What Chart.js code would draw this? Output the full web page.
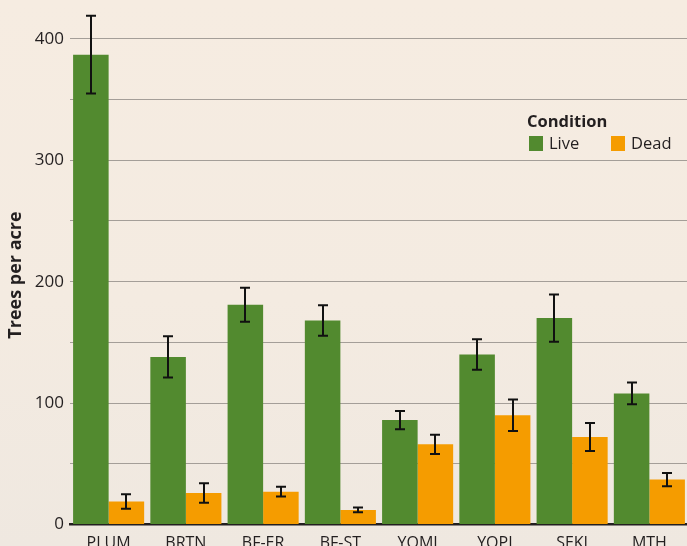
<!DOCTYPE html>
<html>
<head>
<meta charset="utf-8">
<script src="https://cdn.jsdelivr.net/npm/chart.js@4"></script>
<style>
html, body { margin: 0; padding: 0; overflow: hidden; }
body { background: linear-gradient(to bottom, #f6ece1 0px, #f4ebe1 300px, #efe8e0 546px); height: 546px; }
#wrap { position: relative; width: 688px; height: 560px; }
</style>
</head>
<body>
<div id="wrap"><canvas id="myChart" width="688" height="560"></canvas></div>
<script>
// site categories and tree counts (trees per acre)
const sites = ['PLUM', 'BRTN', 'BF-ER', 'BF-ST', 'YOMI', 'YOPI', 'SEKI', 'MTH'];
const liveTrees = [387, 138, 181, 168, 86, 140, 170, 108];
const liveErr = [32, 17, 14, 12.5, 7.5, 12.5, 19.5, 9];
const deadTrees = [19, 26, 27, 12, 66, 90, 72, 37];
const deadErr = [6, 8, 4, 2, 8, 13, 11.5, 5.5];
const yTickLabels = [0, 100, 200, 300, 400];
const legendTitle = 'Condition';
const yTitle = 'Trees per acre';

const GREEN = '#528a2f';
const ORANGE = '#f59c00';
const INK = '#231f20';
const FONT = '"Open Sans", "Noto Sans", sans-serif';

//Draws the +/- error whiskers on top of every bar
const errorBars = {
    id: 'errorBars',
    afterDatasetsDraw(chart) {
        const ctx = chart.ctx;
        const yScale = chart.scales.y;
        ctx.save();
        ctx.strokeStyle = '#111';
        ctx.lineWidth = 2;
        chart.data.datasets.forEach((ds, i) => {
            const meta = chart.getDatasetMeta(i);
            meta.data.forEach((bar, j) => {
                const hi = yScale.getPixelForValue(ds.data[j] + ds.errors[j]);
                const lo = yScale.getPixelForValue(ds.data[j] - ds.errors[j]);
                const x = Math.round(bar.x);
                ctx.beginPath();
                ctx.moveTo(x, hi); ctx.lineTo(x, lo);
                ctx.moveTo(x - 5, hi); ctx.lineTo(x + 5, hi);
                ctx.moveTo(x - 5, lo); ctx.lineTo(x + 5, lo);
                ctx.stroke();
            });
        });
        ctx.restore();
    }
};

//Legend box inside the plot, upper right, plus the y title (sits a bit below centre)
const conditionLegend = {
    id: 'conditionLegend',
    afterDraw(chart) {
        const ctx = chart.ctx;
        ctx.save();
        ctx.fillStyle = INK;
        ctx.textBaseline = 'alphabetic';
        ctx.font = 'bold 16.5px ' + FONT;
        ctx.fillText(legendTitle, 527, 127);
        const xs = [529, 611];
        chart.data.datasets.forEach((ds, i) => {
            ctx.fillStyle = ds.backgroundColor;
            ctx.fillRect(xs[i], 136, 14, 15);
            ctx.fillStyle = INK;
            ctx.font = '16.5px ' + FONT;
            ctx.fillText(ds.label, xs[i] + 20, 149);
        });
        // y axis title
        ctx.translate(16, 275);
        ctx.rotate(-Math.PI / 2);
        ctx.textAlign = 'center';
        ctx.textBaseline = 'middle';
        ctx.font = 'bold 18px ' + FONT;
        ctx.fillText(yTitle, 0, 0);
        ctx.restore();
    }
};

const ctx = document.getElementById('myChart');
const myChart = new Chart(ctx, {
    type: 'bar',
    data: {
        labels: sites,
        datasets: [
            { label: 'Live', data: liveTrees, errors: liveErr, backgroundColor: GREEN },
            { label: 'Dead', data: deadTrees, errors: deadErr, backgroundColor: ORANGE }
        ]
    },
    options: {
        responsive: false,
        animation: false,
        events: [],
        layout: { padding: 0 },
        categoryPercentage: 0.92,
        barPercentage: 1.0,
        plugins: {
            legend: { display: false },
            tooltip: { enabled: false }
        },
        scales: {
            x: {
                z: 1,
                grid: { display: false, drawTicks: false },
                border: { display: true, color: INK, width: 2.5 },
                ticks: { color: INK, font: { family: FONT, size: 16 }, padding: 9, maxRotation: 0 },
                afterFit(scale) {
                    scale.height = 35.5;
                    scale.paddingLeft = 0;
                    scale.paddingRight = 0;
                }
            },
            y: {
                min: 0,
                max: 432,
                grid: { color: '#a49e98', lineWidth: 1, drawTicks: false },
                border: { display: false },
                ticks: {
                    stepSize: 50,
                    padding: 6,
                    color: INK,
                    font: { family: FONT, size: 17 },
                    callback: (v) => yTickLabels.includes(v) ? String(v) : ''
                },
                afterBuildTicks(scale) {
                    scale.ticks = scale.ticks.filter(t => t.value % 50 === 0);
                },
                afterFit(scale) {
                    scale.width = 70;
                    scale.paddingTop = 0;
                    scale.paddingBottom = 0;
                }
            }
        }
    },
    plugins: [errorBars, conditionLegend]
});
</script>
</body>
</html>
